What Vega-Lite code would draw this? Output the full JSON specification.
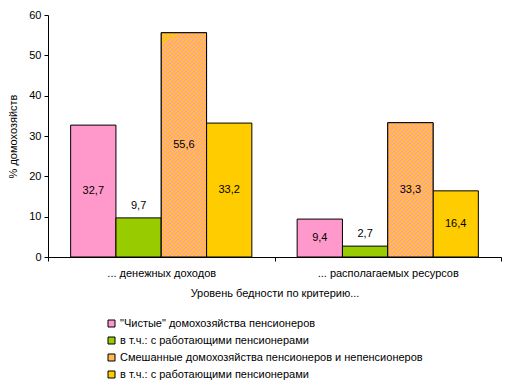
{
  "$schema": "https://vega.github.io/schema/vega-lite/v6.json",
  "width": 453,
  "height": 242,
  "autosize": "none",
  "padding": {"left": 48, "top": 15, "right": 5, "bottom": 127},
  "background": "white",
  "config": {
    "font": "Liberation Sans",
    "view": {"stroke": null},
    "axis": {"labelFont": "Liberation Sans", "titleFont": "Liberation Sans", "labelFontSize": 11, "titleFontSize": 11, "titleFontWeight": "normal", "labelColor": "black", "titleColor": "black", "domainColor": "black", "tickColor": "black", "grid": false},
    "legend": {"labelFont": "Liberation Sans", "labelFontSize": 11, "labelColor": "black"}
  },
  "data": {"values": [
    {"crit": "... денежных доходов", "series": "s1", "value": 32.7, "label": "32,7"},
    {"crit": "... денежных доходов", "series": "s2", "value": 9.7, "label": "9,7"},
    {"crit": "... денежных доходов", "series": "s3", "value": 55.6, "label": "55,6"},
    {"crit": "... денежных доходов", "series": "s4", "value": 33.2, "label": "33,2"},
    {"crit": "... располагаемых ресурсов", "series": "s1", "value": 9.4, "label": "9,4"},
    {"crit": "... располагаемых ресурсов", "series": "s2", "value": 2.7, "label": "2,7"},
    {"crit": "... располагаемых ресурсов", "series": "s3", "value": 33.3, "label": "33,3"},
    {"crit": "... располагаемых ресурсов", "series": "s4", "value": 16.4, "label": "16,4"}
  ]},
  "encoding": {
    "x": {"field": "crit", "type": "nominal", "sort": null, "title": "Уровень бедности по критерию...",
      "scale": {"domain": ["... денежных доходов", "... располагаемых ресурсов"], "paddingInner": 0, "paddingOuter": 0},
      "axis": {"labelAngle": 0, "tickBand": "extent", "tickSize": 4, "labelPadding": 6, "titlePadding": 9}},
    "xOffset": {"field": "series", "type": "nominal", "sort": null, "scale": {"domain": ["s1", "s2", "s3", "s4"], "paddingInner": 0, "paddingOuter": 0.5}}
  },
  "layer": [
    {
      "mark": {"type": "bar", "stroke": "black", "strokeWidth": 1},
      "encoding": {
        "y": {"field": "value", "type": "quantitative", "title": "% домохозяйств",
          "scale": {"domain": [0, 60], "nice": false},
          "axis": {"values": [0, 10, 20, 30, 40, 50, 60], "tickSize": 4, "labelPadding": 3, "titlePadding": 10}},
        "fill": {"field": "series", "type": "nominal", "sort": null,
          "scale": {"domain": ["s1", "s2", "s3", "s4"], "range": ["#FF99CC", "#99CC00", "#FFB852", "#FFCC00"]},
          "legend": {"orient": "none", "legendX": 58, "legendY": 303, "title": null, "symbolType": "square", "symbolSize": 49, "symbolStrokeColor": "black", "symbolStrokeWidth": 1, "symbolOpacity": 1, "rowPadding": 5, "labelOffset": 3, "labelLimit": 400,
            "labelExpr": "datum.value == 's1' ? '\"Чистые\" домохозяйства пенсионеров' : datum.value == 's3' ? 'Смешанные домохозяйства пенсионеров и непенсионеров' : 'в т.ч.: с работающими пенсионерами'"}}
      }
    },
    {
      "transform": [{"filter": "datum.series == 's3' && datum.crit == '... денежных доходов'"}],
      "mark": {"type": "bar", "stroke": "black", "strokeWidth": 1,
        "fill": {"gradient": "linear", "x1": 0, "y1": 0, "x2": 0.3463, "y2": 1.7142, "stops": [
{"offset":0,"color":"#fc0"},{"offset":0.006,"color":"#fc0"},{"offset":0.006,"color":"#f9c"},{"offset":0.01,"color":"#f9c"},
{"offset":0.01,"color":"#fc0"},{"offset":0.016,"color":"#fc0"},{"offset":0.016,"color":"#f9c"},{"offset":0.02,"color":"#f9c"},
{"offset":0.02,"color":"#fc0"},{"offset":0.026,"color":"#fc0"},{"offset":0.026,"color":"#f9c"},{"offset":0.03,"color":"#f9c"},
{"offset":0.03,"color":"#fc0"},{"offset":0.036,"color":"#fc0"},{"offset":0.036,"color":"#f9c"},{"offset":0.04,"color":"#f9c"},
{"offset":0.04,"color":"#fc0"},{"offset":0.046,"color":"#fc0"},{"offset":0.046,"color":"#f9c"},{"offset":0.05,"color":"#f9c"},
{"offset":0.05,"color":"#fc0"},{"offset":0.056,"color":"#fc0"},{"offset":0.056,"color":"#f9c"},{"offset":0.06,"color":"#f9c"},
{"offset":0.06,"color":"#fc0"},{"offset":0.066,"color":"#fc0"},{"offset":0.066,"color":"#f9c"},{"offset":0.07,"color":"#f9c"},
{"offset":0.07,"color":"#fc0"},{"offset":0.076,"color":"#fc0"},{"offset":0.076,"color":"#f9c"},{"offset":0.08,"color":"#f9c"},
{"offset":0.08,"color":"#fc0"},{"offset":0.086,"color":"#fc0"},{"offset":0.086,"color":"#f9c"},{"offset":0.09,"color":"#f9c"},
{"offset":0.09,"color":"#fc0"},{"offset":0.096,"color":"#fc0"},{"offset":0.096,"color":"#f9c"},{"offset":0.10,"color":"#f9c"},
{"offset":0.10,"color":"#fc0"},{"offset":0.106,"color":"#fc0"},{"offset":0.106,"color":"#f9c"},{"offset":0.11,"color":"#f9c"},
{"offset":0.11,"color":"#fc0"},{"offset":0.116,"color":"#fc0"},{"offset":0.116,"color":"#f9c"},{"offset":0.12,"color":"#f9c"},
{"offset":0.12,"color":"#fc0"},{"offset":0.126,"color":"#fc0"},{"offset":0.126,"color":"#f9c"},{"offset":0.13,"color":"#f9c"},
{"offset":0.13,"color":"#fc0"},{"offset":0.136,"color":"#fc0"},{"offset":0.136,"color":"#f9c"},{"offset":0.14,"color":"#f9c"},
{"offset":0.14,"color":"#fc0"},{"offset":0.146,"color":"#fc0"},{"offset":0.146,"color":"#f9c"},{"offset":0.15,"color":"#f9c"},
{"offset":0.15,"color":"#fc0"},{"offset":0.156,"color":"#fc0"},{"offset":0.156,"color":"#f9c"},{"offset":0.16,"color":"#f9c"},
{"offset":0.16,"color":"#fc0"},{"offset":0.166,"color":"#fc0"},{"offset":0.166,"color":"#f9c"},{"offset":0.17,"color":"#f9c"},
{"offset":0.17,"color":"#fc0"},{"offset":0.176,"color":"#fc0"},{"offset":0.176,"color":"#f9c"},{"offset":0.18,"color":"#f9c"},
{"offset":0.18,"color":"#fc0"},{"offset":0.186,"color":"#fc0"},{"offset":0.186,"color":"#f9c"},{"offset":0.19,"color":"#f9c"},
{"offset":0.19,"color":"#fc0"},{"offset":0.196,"color":"#fc0"},{"offset":0.196,"color":"#f9c"},{"offset":0.20,"color":"#f9c"},
{"offset":0.20,"color":"#fc0"},{"offset":0.206,"color":"#fc0"},{"offset":0.206,"color":"#f9c"},{"offset":0.21,"color":"#f9c"},
{"offset":0.21,"color":"#fc0"},{"offset":0.216,"color":"#fc0"},{"offset":0.216,"color":"#f9c"},{"offset":0.22,"color":"#f9c"},
{"offset":0.22,"color":"#fc0"},{"offset":0.226,"color":"#fc0"},{"offset":0.226,"color":"#f9c"},{"offset":0.23,"color":"#f9c"},
{"offset":0.23,"color":"#fc0"},{"offset":0.236,"color":"#fc0"},{"offset":0.236,"color":"#f9c"},{"offset":0.24,"color":"#f9c"},
{"offset":0.24,"color":"#fc0"},{"offset":0.246,"color":"#fc0"},{"offset":0.246,"color":"#f9c"},{"offset":0.25,"color":"#f9c"},
{"offset":0.25,"color":"#fc0"},{"offset":0.256,"color":"#fc0"},{"offset":0.256,"color":"#f9c"},{"offset":0.26,"color":"#f9c"},
{"offset":0.26,"color":"#fc0"},{"offset":0.266,"color":"#fc0"},{"offset":0.266,"color":"#f9c"},{"offset":0.27,"color":"#f9c"},
{"offset":0.27,"color":"#fc0"},{"offset":0.276,"color":"#fc0"},{"offset":0.276,"color":"#f9c"},{"offset":0.28,"color":"#f9c"},
{"offset":0.28,"color":"#fc0"},{"offset":0.286,"color":"#fc0"},{"offset":0.286,"color":"#f9c"},{"offset":0.29,"color":"#f9c"},
{"offset":0.29,"color":"#fc0"},{"offset":0.296,"color":"#fc0"},{"offset":0.296,"color":"#f9c"},{"offset":0.30,"color":"#f9c"},
{"offset":0.30,"color":"#fc0"},{"offset":0.306,"color":"#fc0"},{"offset":0.306,"color":"#f9c"},{"offset":0.31,"color":"#f9c"},
{"offset":0.31,"color":"#fc0"},{"offset":0.316,"color":"#fc0"},{"offset":0.316,"color":"#f9c"},{"offset":0.32,"color":"#f9c"},
{"offset":0.32,"color":"#fc0"},{"offset":0.326,"color":"#fc0"},{"offset":0.326,"color":"#f9c"},{"offset":0.33,"color":"#f9c"},
{"offset":0.33,"color":"#fc0"},{"offset":0.336,"color":"#fc0"},{"offset":0.336,"color":"#f9c"},{"offset":0.34,"color":"#f9c"},
{"offset":0.34,"color":"#fc0"},{"offset":0.346,"color":"#fc0"},{"offset":0.346,"color":"#f9c"},{"offset":0.35,"color":"#f9c"},
{"offset":0.35,"color":"#fc0"},{"offset":0.356,"color":"#fc0"},{"offset":0.356,"color":"#f9c"},{"offset":0.36,"color":"#f9c"},
{"offset":0.36,"color":"#fc0"},{"offset":0.366,"color":"#fc0"},{"offset":0.366,"color":"#f9c"},{"offset":0.37,"color":"#f9c"},
{"offset":0.37,"color":"#fc0"},{"offset":0.376,"color":"#fc0"},{"offset":0.376,"color":"#f9c"},{"offset":0.38,"color":"#f9c"},
{"offset":0.38,"color":"#fc0"},{"offset":0.386,"color":"#fc0"},{"offset":0.386,"color":"#f9c"},{"offset":0.39,"color":"#f9c"},
{"offset":0.39,"color":"#fc0"},{"offset":0.396,"color":"#fc0"},{"offset":0.396,"color":"#f9c"},{"offset":0.40,"color":"#f9c"},
{"offset":0.40,"color":"#fc0"},{"offset":0.406,"color":"#fc0"},{"offset":0.406,"color":"#f9c"},{"offset":0.41,"color":"#f9c"},
{"offset":0.41,"color":"#fc0"},{"offset":0.416,"color":"#fc0"},{"offset":0.416,"color":"#f9c"},{"offset":0.42,"color":"#f9c"},
{"offset":0.42,"color":"#fc0"},{"offset":0.426,"color":"#fc0"},{"offset":0.426,"color":"#f9c"},{"offset":0.43,"color":"#f9c"},
{"offset":0.43,"color":"#fc0"},{"offset":0.436,"color":"#fc0"},{"offset":0.436,"color":"#f9c"},{"offset":0.44,"color":"#f9c"},
{"offset":0.44,"color":"#fc0"},{"offset":0.446,"color":"#fc0"},{"offset":0.446,"color":"#f9c"},{"offset":0.45,"color":"#f9c"},
{"offset":0.45,"color":"#fc0"},{"offset":0.456,"color":"#fc0"},{"offset":0.456,"color":"#f9c"},{"offset":0.46,"color":"#f9c"},
{"offset":0.46,"color":"#fc0"},{"offset":0.466,"color":"#fc0"},{"offset":0.466,"color":"#f9c"},{"offset":0.47,"color":"#f9c"},
{"offset":0.47,"color":"#fc0"},{"offset":0.476,"color":"#fc0"},{"offset":0.476,"color":"#f9c"},{"offset":0.48,"color":"#f9c"},
{"offset":0.48,"color":"#fc0"},{"offset":0.486,"color":"#fc0"},{"offset":0.486,"color":"#f9c"},{"offset":0.49,"color":"#f9c"},
{"offset":0.49,"color":"#fc0"},{"offset":0.496,"color":"#fc0"},{"offset":0.496,"color":"#f9c"},{"offset":0.50,"color":"#f9c"},
{"offset":0.50,"color":"#fc0"},{"offset":0.506,"color":"#fc0"},{"offset":0.506,"color":"#f9c"},{"offset":0.51,"color":"#f9c"},
{"offset":0.51,"color":"#fc0"},{"offset":0.516,"color":"#fc0"},{"offset":0.516,"color":"#f9c"},{"offset":0.52,"color":"#f9c"},
{"offset":0.52,"color":"#fc0"},{"offset":0.526,"color":"#fc0"},{"offset":0.526,"color":"#f9c"},{"offset":0.53,"color":"#f9c"},
{"offset":0.53,"color":"#fc0"},{"offset":0.536,"color":"#fc0"},{"offset":0.536,"color":"#f9c"},{"offset":0.54,"color":"#f9c"},
{"offset":0.54,"color":"#fc0"},{"offset":0.546,"color":"#fc0"},{"offset":0.546,"color":"#f9c"},{"offset":0.55,"color":"#f9c"},
{"offset":0.55,"color":"#fc0"},{"offset":0.556,"color":"#fc0"},{"offset":0.556,"color":"#f9c"},{"offset":0.56,"color":"#f9c"},
{"offset":0.56,"color":"#fc0"},{"offset":0.566,"color":"#fc0"},{"offset":0.566,"color":"#f9c"},{"offset":0.57,"color":"#f9c"},
{"offset":0.57,"color":"#fc0"},{"offset":0.576,"color":"#fc0"},{"offset":0.576,"color":"#f9c"},{"offset":0.58,"color":"#f9c"},
{"offset":0.58,"color":"#fc0"},{"offset":0.586,"color":"#fc0"},{"offset":0.586,"color":"#f9c"},{"offset":0.59,"color":"#f9c"},
{"offset":0.59,"color":"#fc0"},{"offset":0.596,"color":"#fc0"},{"offset":0.596,"color":"#f9c"},{"offset":0.60,"color":"#f9c"},
{"offset":0.60,"color":"#fc0"},{"offset":0.606,"color":"#fc0"},{"offset":0.606,"color":"#f9c"},{"offset":0.61,"color":"#f9c"},
{"offset":0.61,"color":"#fc0"},{"offset":0.616,"color":"#fc0"},{"offset":0.616,"color":"#f9c"},{"offset":0.62,"color":"#f9c"},
{"offset":0.62,"color":"#fc0"},{"offset":0.626,"color":"#fc0"},{"offset":0.626,"color":"#f9c"},{"offset":0.63,"color":"#f9c"},
{"offset":0.63,"color":"#fc0"},{"offset":0.636,"color":"#fc0"},{"offset":0.636,"color":"#f9c"},{"offset":0.64,"color":"#f9c"},
{"offset":0.64,"color":"#fc0"},{"offset":0.646,"color":"#fc0"},{"offset":0.646,"color":"#f9c"},{"offset":0.65,"color":"#f9c"},
{"offset":0.65,"color":"#fc0"},{"offset":0.656,"color":"#fc0"},{"offset":0.656,"color":"#f9c"},{"offset":0.66,"color":"#f9c"},
{"offset":0.66,"color":"#fc0"},{"offset":0.666,"color":"#fc0"},{"offset":0.666,"color":"#f9c"},{"offset":0.67,"color":"#f9c"},
{"offset":0.67,"color":"#fc0"},{"offset":0.676,"color":"#fc0"},{"offset":0.676,"color":"#f9c"},{"offset":0.68,"color":"#f9c"}
        ]}},
      "encoding": {
        "y": {"field": "value", "type": "quantitative", "scale": {"domain": [0, 60], "nice": false}, "axis": null}
      }
    },
    {
      "transform": [{"filter": "datum.series == 's3' && datum.crit == '... располагаемых ресурсов'"}],
      "mark": {"type": "bar", "stroke": "black", "strokeWidth": 1,
        "fill": {"gradient": "linear", "x1": 0, "y1": 0, "x2": 0.902, "y2": 2.6742, "stops": [
{"offset":0,"color":"#fc0"},{"offset":0.006,"color":"#fc0"},{"offset":0.006,"color":"#f9c"},{"offset":0.01,"color":"#f9c"},
{"offset":0.01,"color":"#fc0"},{"offset":0.016,"color":"#fc0"},{"offset":0.016,"color":"#f9c"},{"offset":0.02,"color":"#f9c"},
{"offset":0.02,"color":"#fc0"},{"offset":0.026,"color":"#fc0"},{"offset":0.026,"color":"#f9c"},{"offset":0.03,"color":"#f9c"},
{"offset":0.03,"color":"#fc0"},{"offset":0.036,"color":"#fc0"},{"offset":0.036,"color":"#f9c"},{"offset":0.04,"color":"#f9c"},
{"offset":0.04,"color":"#fc0"},{"offset":0.046,"color":"#fc0"},{"offset":0.046,"color":"#f9c"},{"offset":0.05,"color":"#f9c"},
{"offset":0.05,"color":"#fc0"},{"offset":0.056,"color":"#fc0"},{"offset":0.056,"color":"#f9c"},{"offset":0.06,"color":"#f9c"},
{"offset":0.06,"color":"#fc0"},{"offset":0.066,"color":"#fc0"},{"offset":0.066,"color":"#f9c"},{"offset":0.07,"color":"#f9c"},
{"offset":0.07,"color":"#fc0"},{"offset":0.076,"color":"#fc0"},{"offset":0.076,"color":"#f9c"},{"offset":0.08,"color":"#f9c"},
{"offset":0.08,"color":"#fc0"},{"offset":0.086,"color":"#fc0"},{"offset":0.086,"color":"#f9c"},{"offset":0.09,"color":"#f9c"},
{"offset":0.09,"color":"#fc0"},{"offset":0.096,"color":"#fc0"},{"offset":0.096,"color":"#f9c"},{"offset":0.10,"color":"#f9c"},
{"offset":0.10,"color":"#fc0"},{"offset":0.106,"color":"#fc0"},{"offset":0.106,"color":"#f9c"},{"offset":0.11,"color":"#f9c"},
{"offset":0.11,"color":"#fc0"},{"offset":0.116,"color":"#fc0"},{"offset":0.116,"color":"#f9c"},{"offset":0.12,"color":"#f9c"},
{"offset":0.12,"color":"#fc0"},{"offset":0.126,"color":"#fc0"},{"offset":0.126,"color":"#f9c"},{"offset":0.13,"color":"#f9c"},
{"offset":0.13,"color":"#fc0"},{"offset":0.136,"color":"#fc0"},{"offset":0.136,"color":"#f9c"},{"offset":0.14,"color":"#f9c"},
{"offset":0.14,"color":"#fc0"},{"offset":0.146,"color":"#fc0"},{"offset":0.146,"color":"#f9c"},{"offset":0.15,"color":"#f9c"},
{"offset":0.15,"color":"#fc0"},{"offset":0.156,"color":"#fc0"},{"offset":0.156,"color":"#f9c"},{"offset":0.16,"color":"#f9c"},
{"offset":0.16,"color":"#fc0"},{"offset":0.166,"color":"#fc0"},{"offset":0.166,"color":"#f9c"},{"offset":0.17,"color":"#f9c"},
{"offset":0.17,"color":"#fc0"},{"offset":0.176,"color":"#fc0"},{"offset":0.176,"color":"#f9c"},{"offset":0.18,"color":"#f9c"},
{"offset":0.18,"color":"#fc0"},{"offset":0.186,"color":"#fc0"},{"offset":0.186,"color":"#f9c"},{"offset":0.19,"color":"#f9c"},
{"offset":0.19,"color":"#fc0"},{"offset":0.196,"color":"#fc0"},{"offset":0.196,"color":"#f9c"},{"offset":0.20,"color":"#f9c"},
{"offset":0.20,"color":"#fc0"},{"offset":0.206,"color":"#fc0"},{"offset":0.206,"color":"#f9c"},{"offset":0.21,"color":"#f9c"},
{"offset":0.21,"color":"#fc0"},{"offset":0.216,"color":"#fc0"},{"offset":0.216,"color":"#f9c"},{"offset":0.22,"color":"#f9c"},
{"offset":0.22,"color":"#fc0"},{"offset":0.226,"color":"#fc0"},{"offset":0.226,"color":"#f9c"},{"offset":0.23,"color":"#f9c"},
{"offset":0.23,"color":"#fc0"},{"offset":0.236,"color":"#fc0"},{"offset":0.236,"color":"#f9c"},{"offset":0.24,"color":"#f9c"},
{"offset":0.24,"color":"#fc0"},{"offset":0.246,"color":"#fc0"},{"offset":0.246,"color":"#f9c"},{"offset":0.25,"color":"#f9c"},
{"offset":0.25,"color":"#fc0"},{"offset":0.256,"color":"#fc0"},{"offset":0.256,"color":"#f9c"},{"offset":0.26,"color":"#f9c"},
{"offset":0.26,"color":"#fc0"},{"offset":0.266,"color":"#fc0"},{"offset":0.266,"color":"#f9c"},{"offset":0.27,"color":"#f9c"},
{"offset":0.27,"color":"#fc0"},{"offset":0.276,"color":"#fc0"},{"offset":0.276,"color":"#f9c"},{"offset":0.28,"color":"#f9c"},
{"offset":0.28,"color":"#fc0"},{"offset":0.286,"color":"#fc0"},{"offset":0.286,"color":"#f9c"},{"offset":0.29,"color":"#f9c"},
{"offset":0.29,"color":"#fc0"},{"offset":0.296,"color":"#fc0"},{"offset":0.296,"color":"#f9c"},{"offset":0.30,"color":"#f9c"},
{"offset":0.30,"color":"#fc0"},{"offset":0.306,"color":"#fc0"},{"offset":0.306,"color":"#f9c"},{"offset":0.31,"color":"#f9c"},
{"offset":0.31,"color":"#fc0"},{"offset":0.316,"color":"#fc0"},{"offset":0.316,"color":"#f9c"},{"offset":0.32,"color":"#f9c"},
{"offset":0.32,"color":"#fc0"},{"offset":0.326,"color":"#fc0"},{"offset":0.326,"color":"#f9c"},{"offset":0.33,"color":"#f9c"},
{"offset":0.33,"color":"#fc0"},{"offset":0.336,"color":"#fc0"},{"offset":0.336,"color":"#f9c"},{"offset":0.34,"color":"#f9c"},
{"offset":0.34,"color":"#fc0"},{"offset":0.346,"color":"#fc0"},{"offset":0.346,"color":"#f9c"},{"offset":0.35,"color":"#f9c"},
{"offset":0.35,"color":"#fc0"},{"offset":0.356,"color":"#fc0"},{"offset":0.356,"color":"#f9c"},{"offset":0.36,"color":"#f9c"},
{"offset":0.36,"color":"#fc0"},{"offset":0.366,"color":"#fc0"},{"offset":0.366,"color":"#f9c"},{"offset":0.37,"color":"#f9c"},
{"offset":0.37,"color":"#fc0"},{"offset":0.376,"color":"#fc0"},{"offset":0.376,"color":"#f9c"},{"offset":0.38,"color":"#f9c"},
{"offset":0.38,"color":"#fc0"},{"offset":0.386,"color":"#fc0"},{"offset":0.386,"color":"#f9c"},{"offset":0.39,"color":"#f9c"},
{"offset":0.39,"color":"#fc0"},{"offset":0.396,"color":"#fc0"},{"offset":0.396,"color":"#f9c"},{"offset":0.40,"color":"#f9c"},
{"offset":0.40,"color":"#fc0"},{"offset":0.406,"color":"#fc0"},{"offset":0.406,"color":"#f9c"},{"offset":0.41,"color":"#f9c"},
{"offset":0.41,"color":"#fc0"},{"offset":0.416,"color":"#fc0"},{"offset":0.416,"color":"#f9c"},{"offset":0.42,"color":"#f9c"},
{"offset":0.42,"color":"#fc0"},{"offset":0.426,"color":"#fc0"},{"offset":0.426,"color":"#f9c"},{"offset":0.43,"color":"#f9c"},
{"offset":0.43,"color":"#fc0"},{"offset":0.436,"color":"#fc0"},{"offset":0.436,"color":"#f9c"},{"offset":0.44,"color":"#f9c"},
{"offset":0.44,"color":"#fc0"},{"offset":0.446,"color":"#fc0"},{"offset":0.446,"color":"#f9c"},{"offset":0.45,"color":"#f9c"},
{"offset":0.45,"color":"#fc0"},{"offset":0.456,"color":"#fc0"},{"offset":0.456,"color":"#f9c"},{"offset":0.46,"color":"#f9c"}
        ]}},
      "encoding": {
        "y": {"field": "value", "type": "quantitative", "scale": {"domain": [0, 60], "nice": false}, "axis": null}
      }
    },
    {
      "transform": [{"filter": "datum.series != 's2'"}],
      "mark": {"type": "text", "fontSize": 11, "color": "black", "baseline": "middle"},
      "encoding": {
        "y": {"field": "value", "type": "quantitative", "scale": {"domain": [0, 120], "nice": false}, "axis": null},
        "text": {"field": "label"}
      }
    },
    {
      "transform": [{"filter": "datum.series == 's2'"}],
      "mark": {"type": "text", "fontSize": 11, "color": "black", "baseline": "bottom", "dy": -7},
      "encoding": {
        "y": {"field": "value", "type": "quantitative", "scale": {"domain": [0, 60], "nice": false}, "axis": null},
        "text": {"field": "label"}
      }
    }
  ],
  "resolve": {"scale": {"y": "independent"}}
}
